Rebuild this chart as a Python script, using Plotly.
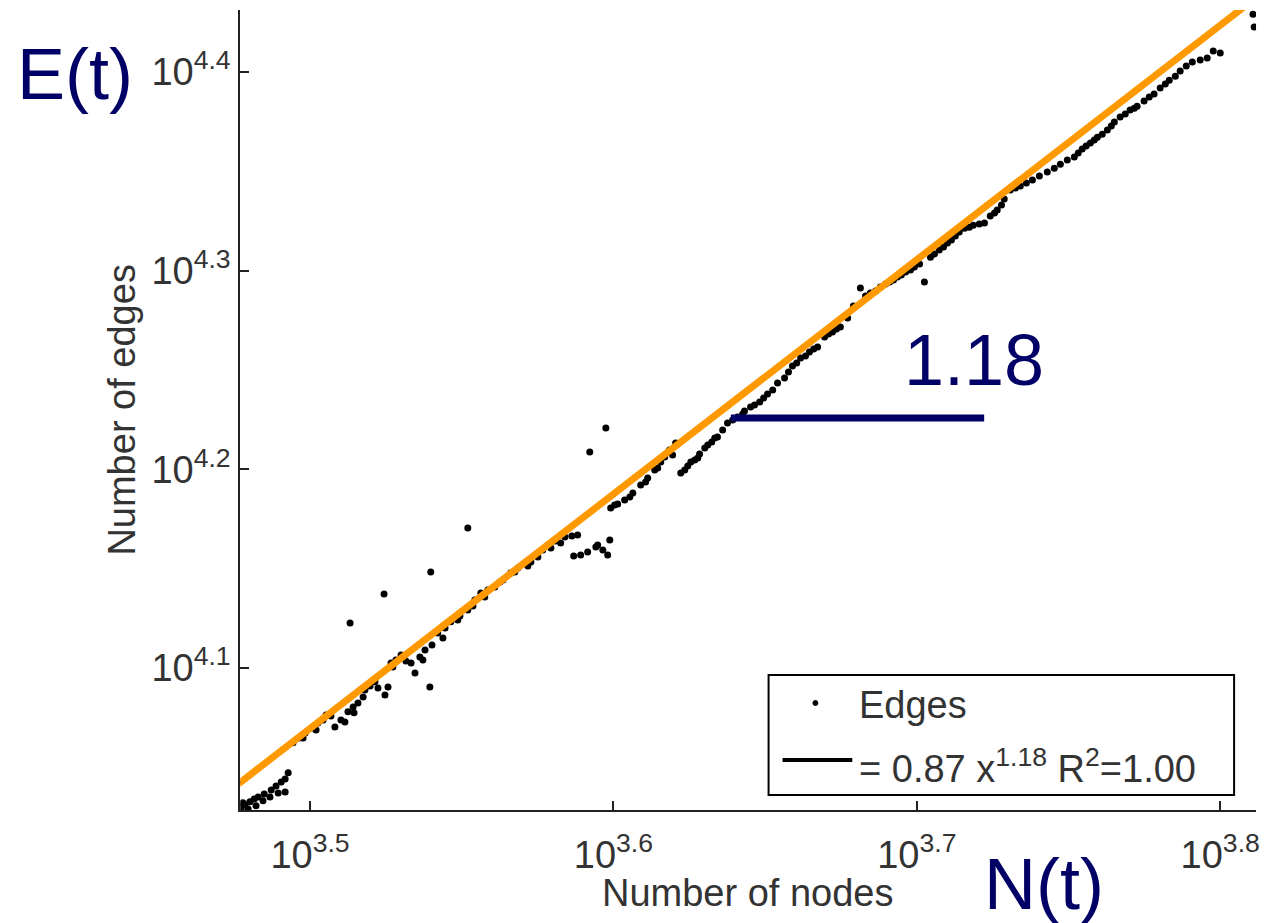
import numpy as np
import plotly.graph_objects as go

# Edge count versus node count, both given as log10 exponents (axes are log-log)
log10_nodes = [
    3.4773, 3.4786, 3.4802, 3.4816, 3.4829, 3.4849, 3.4872, 3.4888, 3.4905, 3.4918,
    3.4928, 3.4918, 3.4944, 3.4964, 3.4984, 3.5007, 3.5026, 3.5053, 3.5082, 3.5102,
    3.5125, 3.5142, 3.5158, 3.5181, 3.5198, 3.5214, 3.5247, 3.5257, 3.5267, 3.5283,
    3.5300, 3.5333, 3.5346, 3.5362, 3.5379, 3.5395, 3.5402, 3.5421, 3.5445, 3.5464,
    3.5494, 3.5520, 3.5543, 3.5563, 3.5586, 3.5609, 3.5636, 3.5662, 3.5685, 3.5708,
    3.5728, 3.5751, 3.5767, 3.5784, 3.5810, 3.5840, 3.5863, 3.5882, 3.5892, 3.5869,
    3.5915, 3.5942, 3.5981, 3.5988, 3.5991, 3.6014, 3.6037, 3.6064, 3.6090, 3.6113,
    3.6136, 3.6156, 3.6169, 3.6185, 3.6205, 3.6222, 3.6245, 3.6268, 3.6284, 3.6301,
    3.6324, 3.6343, 3.6360, 3.6376, 3.6409, 3.6432, 3.6452, 3.6482, 3.6508, 3.6541,
    3.6564, 3.6590, 3.6617, 3.6646, 3.6673, 3.6696, 3.6722, 3.6748, 3.6772, 3.6791,
    3.6814, 3.6847, 3.6880, 3.6910, 3.6936, 3.6963, 3.6992, 3.7025, 3.7045, 3.7074,
    3.7101, 3.7127, 3.7157, 3.7186, 3.7223, 3.7242, 3.7265, 3.7288, 3.7308, 3.7341,
    3.7381, 3.7430, 3.7473, 3.7519, 3.7545, 3.7572, 3.7595, 3.7628, 3.7651, 3.7670,
    3.7703, 3.7726, 3.7749, 3.7782, 3.7802, 3.7832, 3.7868, 3.7908, 3.7957, 3.7977,
    3.8000, 3.8112, 3.8108, 3.5132, 3.5244, 3.5398, 3.5520, 3.5975, 3.5922,
    3.4796, 3.4822, 3.4845, 3.4868, 3.4895, 3.4779, 3.4977, 3.5020, 3.5043, 3.5069,
    3.5115, 3.5145, 3.5175, 3.5224, 3.5273, 3.5316, 3.5372, 3.5438, 3.5487, 3.5537,
    3.5576, 3.5626, 3.5675, 3.5718, 3.5794, 3.5826, 3.5948, 3.5965, 3.6004, 3.6054,
    3.6106, 3.6146, 3.6195, 3.6235, 3.6255, 3.6278, 3.6311, 3.6334, 3.6393, 3.6426,
    3.6465, 3.6495, 3.6525, 3.6577, 3.6604, 3.6633, 3.6660, 3.6709, 3.6735, 3.6831,
    3.6864, 3.6897, 3.6923, 3.6949, 3.6979, 3.7009, 3.7058, 3.7088, 3.7114, 3.7140,
    3.7173, 3.7206, 3.7256, 3.7279, 3.7325, 3.7361, 3.7404, 3.7453, 3.7496, 3.7532,
    3.7558, 3.7585, 3.7611, 3.7641, 3.7687, 3.7717, 3.7766, 3.7819, 3.7852, 3.7888,
    3.7934,
]
log10_edges = [
    4.0295, 4.0311, 4.0326, 4.0341, 4.0351, 4.0366, 4.0386, 4.0406, 4.0426, 4.0441,
    4.0472, 4.0376, 4.0623, 4.0648, 4.0673, 4.0698, 4.0723, 4.0763, 4.0703, 4.0738,
    4.0779, 4.0804, 4.0824, 4.0889, 4.0909, 4.0930, 4.0864, 4.0904, 4.1025, 4.1040,
    4.1065, 4.1025, 4.0975, 4.1055, 4.1091, 4.0904, 4.1116, 4.1176, 4.1201, 4.1232,
    4.1262, 4.1292, 4.1342, 4.1377, 4.1393, 4.1408, 4.1443, 4.1478, 4.1503, 4.1528,
    4.1533, 4.1559, 4.1594, 4.1619, 4.1639, 4.1659, 4.1664, 4.1669, 4.1569, 4.1564,
    4.1584, 4.1609, 4.1569, 4.1644, 4.1805, 4.1825, 4.1845, 4.1881, 4.1921, 4.1956,
    4.1996, 4.2037, 4.2062, 4.2097, 4.2132, 4.1981, 4.2017, 4.2047, 4.2077, 4.2107,
    4.2137, 4.2163, 4.2198, 4.2233, 4.2263, 4.2293, 4.2314, 4.2339, 4.2379, 4.2434,
    4.2460, 4.2520, 4.2560, 4.2590, 4.2616, 4.2666, 4.2691, 4.2716, 4.2761, 4.2822,
    4.2912, 4.2887, 4.2918, 4.2943, 4.2968, 4.2993, 4.3018, 4.2943, 4.3068, 4.3104,
    4.3139, 4.3174, 4.3214, 4.3229, 4.3240, 4.3275, 4.3305, 4.3360, 4.3406, 4.3426,
    4.3456, 4.3496, 4.3536, 4.3572, 4.3612, 4.3642, 4.3672, 4.3708, 4.3748, 4.3773,
    4.3808, 4.3828, 4.3854, 4.3889, 4.3919, 4.3959, 4.4005, 4.4050, 4.4070, 4.4105,
    4.4095, 4.4226, 4.4291, 4.1226, 4.1372, 4.1483, 4.1705, 4.2208, 4.2087,
    4.0290, 4.0306, 4.0331, 4.0351, 4.0371, 4.0321, 4.0648, 4.0688, 4.0738, 4.0758,
    4.0728, 4.0774, 4.0854, 4.0899, 4.1005, 4.1035, 4.1040, 4.1151, 4.1242, 4.1312,
    4.1357, 4.1433, 4.1483, 4.1513, 4.1604, 4.1629, 4.1619, 4.1594, 4.1820, 4.1861,
    4.1936, 4.2007, 4.2072, 4.1996, 4.2037, 4.2057, 4.2122, 4.2158, 4.2248, 4.2278,
    4.2324, 4.2359, 4.2399, 4.2490, 4.2535, 4.2570, 4.2605, 4.2681, 4.2706, 4.2872,
    4.2897, 4.2933, 4.2953, 4.2978, 4.3003, 4.3033, 4.3084, 4.3119, 4.3154, 4.3194,
    4.3219, 4.3235, 4.3290, 4.3330, 4.3416, 4.3441, 4.3476, 4.3516, 4.3557, 4.3592,
    4.3627, 4.3657, 4.3687, 4.3728, 4.3788, 4.3818, 4.3874, 4.3939, 4.3979, 4.4030,
    4.4060,
]

# Power-law fit  E = a * N^b
fit_coef = 0.87
fit_exp = 1.18
fit_r2 = 1.00
fit_log_n = [3.4756, 3.8096]

# Slope marker: horizontal bar labelled with the exponent
slope_log_n = [3.6387, 3.7222]
slope_log_e = 4.2258

x_ticks = [3.5, 3.6, 3.7, 3.8]
y_ticks = [4.1, 4.2, 4.3, 4.4]

W, H = 1270, 923
FONT = "Liberation Sans, Arial, sans-serif"
NAVY = "#000066"
ORANGE = "#FF9900"
AX = "#222222"
TXT = "#333333"


def px(x):
    return x / W


def py(y):
    return 1 - y / H


nodes = np.power(10.0, log10_nodes)
edges = np.power(10.0, log10_edges)
fit_n = np.power(10.0, fit_log_n)
fit_e = fit_coef * fit_n ** fit_exp

fig = go.Figure()
fig.add_trace(go.Scatter(
    x=nodes, y=edges, mode="markers", name="Edges",
    marker=dict(color="black", size=7, symbol="circle", line=dict(width=0)),
    showlegend=False,
))
fig.add_trace(go.Scatter(
    x=fit_n, y=fit_e, mode="lines", line=dict(color="black", width=2),
    showlegend=False,
))
fig.add_trace(go.Scatter(
    x=fit_n, y=fit_e, mode="lines", line=dict(color=ORANGE, width=7),
    showlegend=False,
))
fig.add_trace(go.Scatter(
    x=np.power(10.0, slope_log_n), y=[10 ** slope_log_e] * 2, mode="lines",
    line=dict(color=NAVY, width=7), showlegend=False,
))

axis_common = dict(
    type="log", showgrid=False, zeroline=False, showline=True,
    linecolor=AX, linewidth=2, ticks="inside", ticklen=9, tickwidth=2,
    tickcolor=AX, tickfont=dict(family=FONT, size=38, color=TXT),
)
fig.update_xaxes(
    **axis_common, range=[3.4770, 3.8118],
    domain=[241 / W, 1260 / W],
    tickvals=[10 ** v for v in x_ticks],
    ticktext=[f"10<sup>{v}</sup>" for v in x_ticks],
    ticklabelstandoff=10,
)
fig.update_yaxes(
    **axis_common, range=[4.0285, 4.4312],
    domain=[1 - 810 / H, 1 - 10 / H],
    tickvals=[10 ** v for v in y_ticks],
    ticktext=[f"10<sup>{v}</sup>" for v in y_ticks],
)

ann = []
ann.append(dict(x=px(122), y=py(410), text="Number of edges", textangle=-90,
                font=dict(family=FONT, size=38, color=TXT)))
ann.append(dict(x=px(750), y=py(893), text="Number of nodes",
                font=dict(family=FONT, size=38, color=TXT)))
ann.append(dict(x=px(75), y=py(74), text="E(t)",
                font=dict(family=FONT, size=72, color=NAVY)))
ann.append(dict(x=px(1047), y=py(884), text="N(t)",
                font=dict(family=FONT, size=72, color=NAVY)))
ann.append(dict(x=px(977), y=py(360), text=f"{fit_exp:.2f}",
                font=dict(family=FONT, size=72, color=NAVY)))
ann.append(dict(x=px(860), y=py(705), text="Edges", xanchor="left",
                font=dict(family=FONT, size=38, color=TXT)))
ann.append(dict(x=px(860), y=py(766), xanchor="left",
                text=f"= {fit_coef:.2f} x<sup>{fit_exp:.2f}</sup> R<sup>2</sup>={fit_r2:.2f}",
                font=dict(family=FONT, size=38, color=TXT)))
for a in ann:
    a.setdefault("xanchor", "center")
    a.update(xref="paper", yref="paper", yanchor="middle", showarrow=False)

shapes = [
    dict(type="rect", xref="paper", yref="paper",
         x0=px(771), x1=px(1238), y0=py(795), y1=py(675),
         line=dict(color="black", width=2), fillcolor="white", layer="above"),
    dict(type="line", xref="paper", yref="paper",
         x0=px(785), x1=px(855), y0=py(760), y1=py(760),
         line=dict(color="black", width=4), layer="above"),
    dict(type="circle", xref="paper", yref="paper",
         x0=px(815.5), x1=px(820.5), y0=py(705.5), y1=py(700.5),
         line=dict(color="black", width=1), fillcolor="black", layer="above"),
]

fig.update_layout(
    width=W, height=H, autosize=False,
    margin=dict(l=0, r=0, t=0, b=0),
    paper_bgcolor="white", plot_bgcolor="white",
    annotations=ann, shapes=shapes, showlegend=False,
)

fig.write_html("out.html")
